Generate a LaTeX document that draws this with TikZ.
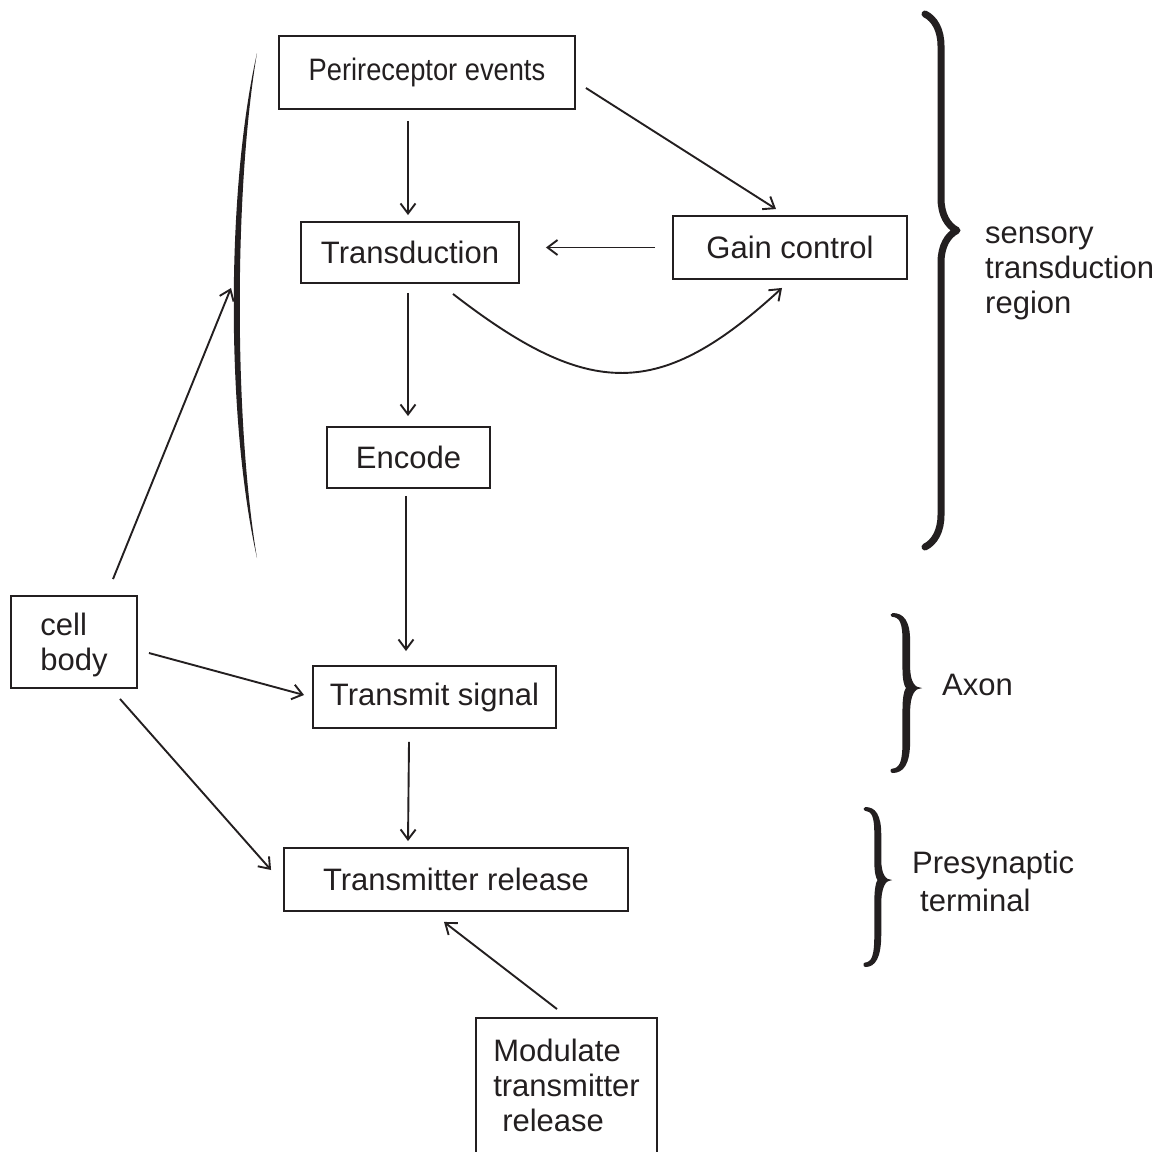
\documentclass[tikz,border=0pt]{standalone}
\usepackage{fontspec}
\setmainfont{Liberation Sans}
\usetikzlibrary{arrows.meta,calc,decorations.pathreplacing}
\definecolor{ink}{HTML}{231F20}
\tikzset{
  box/.style={draw=ink, line width=1.9pt, inner sep=0pt, align=center, text=ink,
    font=\fontsize{31}{35}\selectfont},
  arr/.style={draw=ink, line width=1.9pt, -{Straight Barb[length=10pt,width=15pt,line width=1.9pt]}},
  lbl/.style={inner sep=0pt, anchor=west, align=left, text=ink, font=\fontsize{31}{35}\selectfont},
  halfbrace/.pic={
    \fill[ink] (1,0) .. controls (0.78,0) and (0.63,0.08) .. (0.63,0.28)
      -- (0.63,0.62) .. controls (0.63,0.9) and (0.42,1) .. (0.08,1)
      .. controls (0,1) and (0,0.95) .. (0.06,0.95)
      .. controls (0.3,0.94) and (0.39,0.88) .. (0.39,0.62)
      -- (0.39,0.25) .. controls (0.39,0.1) and (0.45,0.02) .. (0.5,0) -- cycle;
  }
}
\begin{document}
\begin{tikzpicture}[x=1pt,y=-1pt]
\useasboundingbox (0,0) rectangle (1164,1151);

% boxes
\node[box, minimum width=296pt, minimum height=73pt] (peri) at (427,72.5)
  {\raisebox{2pt}{\scalebox{0.88}[1]{Perireceptor events}}};
\node[box, minimum width=218pt, minimum height=61pt] (trans) at (410,252.5) {Transduction};
\node[box, minimum width=234pt, minimum height=63pt] (gain) at (790,247.5) {Gain control};
\node[box, minimum width=163pt, minimum height=61pt] (enc) at (408.5,457.5) {Encode};
\node[box, align=left, minimum width=126pt, minimum height=92pt, text depth=-3pt] (cell) at (74,642) {cell\\body};
\node[box, minimum width=243pt, minimum height=62pt] (tsig) at (434.5,697) {Transmit signal};
\node[box, minimum width=344pt, minimum height=63pt] (trel) at (456,879.5) {Transmitter release};
\node[box, draw=none, align=left, minimum width=179pt, minimum height=132pt] (mod) at (566.5,1085)
  {Modulate\\transmitter\\\hspace*{9pt}release};
\draw[ink, line width=1.9pt] (mod.south west) -- (mod.north west) -- (mod.north east) -- (mod.south east);

% left bracket (sensory region)
\fill[ink] (257,53) .. controls (226,190) and (226,420) .. (257,558)
  .. controls (234,420) and (234,190) .. (257,53) -- cycle;
\coordinate (bracketmid) at (231,288);

% right braces
\draw[ink, line width=7pt, line cap=round, line join=round, decorate,
  decoration={brace, amplitude=32pt, aspect=0.406}] (925,14) -- (925,547);
\pic[xscale=32, yscale=-75] at (890,688) {halfbrace};
\pic[xscale=32, yscale=85] at (890,688) {halfbrace};
\pic[xscale=29, yscale=-73] at (863,880) {halfbrace};
\pic[xscale=29, yscale=87] at (863,880) {halfbrace};

% labels
\node[lbl] (lsens) at (985,273) {sensory\\transduction\\region};
\node[lbl] (laxon) at (942,685) {Axon};
\node[lbl, font=\fontsize{31}{38}\selectfont] (lpre) at (912,881) {Presynaptic\\\hspace*{8pt}terminal};

% connectors
\draw[arr] ($(peri.south -| trans.north)+(-2,11)$) -- ($(trans.north)+(-2,-6)$);
\draw[arr] ($(peri.east)+(10,15.5)$) -- ($(gain.north)+(-14,-6)$);
\draw[arr] ($(gain.west)+(-17,0)$) -- ($(gain.west -| trans.east)+(26,0)$);
\draw[arr] ($(trans.south)+(43,10)$) .. controls (590,400) and (660,400) .. ($(gain.south)+(-8,8)$);
\draw[arr] ($(trans.south)+(-2,9)$) -- ($(enc.north)+(-0.5,-10)$);
\draw[arr] ($(enc.south)+(-2.5,7)$) -- ($(enc.south |- tsig.north)+(-2.5,-14)$);
\draw[arr] ($(tsig.south)+(-25.5,13)$) -- ($(trel.north)+(-48,-6)$);
\draw[arr] ($(mod.north)+(-9.5,-9)$) -- ($(trel.south)+(-12,10)$);
\draw[arr] ($(cell.north)+(39,-16)$) -- (bracketmid);
\draw[arr] ($(cell.east)+(11,11)$) -- ($(tsig.west)+(-8,-2)$);
\draw[arr] ($(cell.south)+(46,10)$) -- ($(trel.west)+(-12,-9.5)$);
\end{tikzpicture}
\end{document}
